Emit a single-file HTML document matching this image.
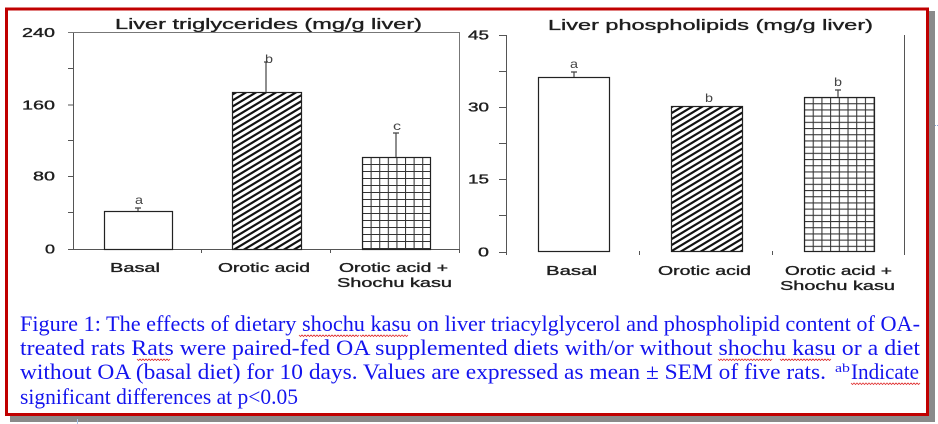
<!DOCTYPE html>
<html><head><meta charset="utf-8"><style>
html,body{margin:0;padding:0;background:#fff;}
svg{display:block;}
</style></head><body>
<svg width="938" height="424" viewBox="0 0 938 424" xmlns="http://www.w3.org/2000/svg">
<defs>
  <pattern id="diag" patternUnits="userSpaceOnUse" width="10" height="6">
    <path d="M-5,3 L5,-3 M0,6 L10,0 M5,9 L15,3" stroke="#111" stroke-width="2.2" fill="none"/>
  </pattern>
  <pattern id="gridL" patternUnits="userSpaceOnUse" x="362" y="157" width="8.6" height="7">
    <path d="M0.5,0 V7 M0,0.5 H8.6" stroke="#333" stroke-width="1.1" fill="none"/>
  </pattern>
  <pattern id="gridR" patternUnits="userSpaceOnUse" x="804" y="97" width="8.7" height="6.2">
    <path d="M0.5,0 V6.2 M0,0.5 H8.7" stroke="#333" stroke-width="1.1" fill="none"/>
  </pattern>
</defs>
<rect width="938" height="424" fill="#fff"/>

<!-- shadow -->
<rect x="929" y="11" width="6" height="411" fill="#8a8a8a"/>
<rect x="10" y="416" width="925" height="6" fill="#8a8a8a"/>
<!-- frame -->
<rect x="6.5" y="9" width="921" height="405.5" fill="#fff" stroke="#c00000" stroke-width="3"/>

<g font-family="Liberation Sans, Arial, sans-serif" fill="#1e1e1e" stroke="#1e1e1e" stroke-width="0.35">
  <!-- LEFT CHART -->
  <text x="115" y="29" font-size="15" textLength="307" lengthAdjust="spacingAndGlyphs">Liver triglycerides  (mg/g  liver)</text>
  <!-- axes -->
  <g stroke="#555" stroke-width="1" fill="none">
    <path d="M73.5,32 V249.5 H460"/>
    <path d="M68,32.5 H459.5 V249" stroke="#777"/>
    <path d="M68,68.5 H73 M68,105 H73 M68,140.5 H73 M68,176.5 H73 M68,212.5 H73 M68,249.5 H73"/>
    <path d="M201.5,249 V253 M330.5,249 V253 M459.5,249 V253"/>
  </g>
  <text x="22" y="37" font-size="13" textLength="33" lengthAdjust="spacingAndGlyphs">240</text>
  <text x="22" y="109.5" font-size="13" textLength="33" lengthAdjust="spacingAndGlyphs">160</text>
  <text x="33" y="180.5" font-size="13" textLength="22" lengthAdjust="spacingAndGlyphs">80</text>
  <text x="45" y="253.5" font-size="13" textLength="10" lengthAdjust="spacingAndGlyphs">0</text>
  <!-- bars -->
  <g stroke="#222" stroke-width="1.2">
  <rect x="104.5" y="211.5" width="68" height="38" fill="#fff"/>
  <rect x="232.5" y="92.5" width="69" height="157" fill="url(#diag)"/>
  <rect x="362.5" y="157.5" width="68" height="92" fill="url(#gridL)"/>
  </g>
  <!-- error bars -->
  <g stroke="#444" stroke-width="1.2" fill="none">
    <path d="M138,211 V208 M135,208 H141"/>
    <path d="M266,92 V62 M264,62 H268"/>
    <path d="M396,157 V133 M393,133 H399"/>
  </g>
  <g fill="#444" stroke="none">
  <text x="135" y="204" font-size="12" textLength="8" lengthAdjust="spacingAndGlyphs">a</text>
  <text x="265" y="63" font-size="12" textLength="8" lengthAdjust="spacingAndGlyphs">b</text>
  <text x="393" y="130" font-size="12" textLength="8" lengthAdjust="spacingAndGlyphs">c</text>
  </g>
  <!-- x labels -->
  <text x="110" y="272" font-size="13" textLength="50" lengthAdjust="spacingAndGlyphs">Basal</text>
  <text x="218" y="272" font-size="13" textLength="92" lengthAdjust="spacingAndGlyphs">Orotic acid</text>
  <text x="339" y="272" font-size="13" textLength="109" lengthAdjust="spacingAndGlyphs">Orotic acid +</text>
  <text x="337" y="287" font-size="13" textLength="115" lengthAdjust="spacingAndGlyphs">Shochu kasu</text>

  <!-- RIGHT CHART -->
  <text x="548" y="30" font-size="15" textLength="325" lengthAdjust="spacingAndGlyphs">Liver phospholipids  (mg/g  liver)</text>
  <g stroke="#555" stroke-width="1" fill="none">
    <path d="M506.5,35 V255"/>
    <path d="M904.5,35 V255"/>
    <path d="M499,35.5 H506 M499,71.5 H506 M499,107.5 H506 M499,143.5 H506 M499,179.5 H506 M499,215.5 H506 M499,252.5 H506"/>
    <path d="M639.5,251 V255 M772.5,251 V255"/>
  </g>
  <text x="468" y="39.5" font-size="13" textLength="21" lengthAdjust="spacingAndGlyphs">45</text>
  <text x="468" y="111.5" font-size="13" textLength="21" lengthAdjust="spacingAndGlyphs">30</text>
  <text x="468" y="183.5" font-size="13" textLength="21" lengthAdjust="spacingAndGlyphs">15</text>
  <text x="478" y="256.5" font-size="13" textLength="11" lengthAdjust="spacingAndGlyphs">0</text>
  <g stroke="#222" stroke-width="1.2">
  <rect x="538.5" y="77.5" width="71" height="174" fill="#fff"/>
  <rect x="671.5" y="106.5" width="71" height="145" fill="url(#diag)"/>
  <rect x="804.5" y="97.5" width="70" height="154" fill="url(#gridR)"/>
  </g>
  <g stroke="#444" stroke-width="1.2" fill="none">
    <path d="M574,77 V72 M571,72 H577"/>
    <path d="M838,97 V90 M835,90 H841"/>
  </g>
  <g fill="#444" stroke="none">
  <text x="570" y="68" font-size="12" textLength="8" lengthAdjust="spacingAndGlyphs">a</text>
  <text x="705" y="102" font-size="12" textLength="8" lengthAdjust="spacingAndGlyphs">b</text>
  <text x="834" y="86" font-size="12" textLength="8" lengthAdjust="spacingAndGlyphs">b</text>
  </g>
  <text x="546" y="275" font-size="13" textLength="51" lengthAdjust="spacingAndGlyphs">Basal</text>
  <text x="658" y="275" font-size="13" textLength="93" lengthAdjust="spacingAndGlyphs">Orotic acid</text>
  <text x="785" y="275" font-size="13" textLength="107" lengthAdjust="spacingAndGlyphs">Orotic acid +</text>
  <text x="780" y="290" font-size="13" textLength="115" lengthAdjust="spacingAndGlyphs">Shochu kasu</text>
</g>

<!-- caption -->
<g font-family="Liberation Serif, 'Times New Roman', serif" font-size="22.5" fill="#1414ee">
  <text x="20" y="331" textLength="900" lengthAdjust="spacingAndGlyphs">Figure 1: The effects of dietary shochu kasu on liver triacylglycerol and phospholipid content of OA-</text>
  <text x="20" y="355" textLength="900" lengthAdjust="spacingAndGlyphs">treated  rats  Rats  were  paired-fed  OA  supplemented  diets  with/or  without  shochu  kasu  or  a  diet</text>
  <text x="20" y="379" textLength="806" lengthAdjust="spacingAndGlyphs">without OA (basal diet) for 10 days. Values are expressed as mean ± SEM of five rats.</text>
  <text x="835" y="372" font-size="13" textLength="15" lengthAdjust="spacingAndGlyphs">ab</text>
  <text x="851" y="379" textLength="68" lengthAdjust="spacingAndGlyphs">Indicate</text>
  <text x="20" y="404" textLength="278" lengthAdjust="spacingAndGlyphs">significant differences at p&lt;0.05</text>
</g>
<!-- spelling squiggles -->
<g stroke="#e03030" stroke-width="0.8" fill="none">
  <path d="M299,335 l1.5,1.5 l1.5,-1.5 l1.5,1.5 l1.5,-1.5 l1.5,1.5 l1.5,-1.5 l1.5,1.5 l1.5,-1.5 l1.5,1.5 l1.5,-1.5 l1.5,1.5 l1.5,-1.5 l1.5,1.5 l1.5,-1.5 l1.5,1.5 l1.5,-1.5 l1.5,1.5 l1.5,-1.5 l1.5,1.5 l1.5,-1.5 l1.5,1.5 l1.5,-1.5 l1.5,1.5 l1.5,-1.5 l1.5,1.5 l1.5,-1.5 l1.5,1.5 l1.5,-1.5 l1.5,1.5 l1.5,-1.5 l1.5,1.5 l1.5,-1.5 l1.5,1.5 l1.5,-1.5 l1.5,1.5 l1.5,-1.5 l1.5,1.5 l1.5,-1.5 l1.5,1.5 l1.5,-1.5"/>
  <path d="M360,335 l1.5,1.5 l1.5,-1.5 l1.5,1.5 l1.5,-1.5 l1.5,1.5 l1.5,-1.5 l1.5,1.5 l1.5,-1.5 l1.5,1.5 l1.5,-1.5 l1.5,1.5 l1.5,-1.5 l1.5,1.5 l1.5,-1.5 l1.5,1.5 l1.5,-1.5 l1.5,1.5 l1.5,-1.5 l1.5,1.5 l1.5,-1.5 l1.5,1.5 l1.5,-1.5 l1.5,1.5 l1.5,-1.5 l1.5,1.5 l1.5,-1.5 l1.5,1.5 l1.5,-1.5 l1.5,1.5 l1.5,-1.5 l1.5,1.5 l1.5,-1.5"/>
  <path d="M137,359 l1.5,1.5 l1.5,-1.5 l1.5,1.5 l1.5,-1.5 l1.5,1.5 l1.5,-1.5 l1.5,1.5 l1.5,-1.5 l1.5,1.5 l1.5,-1.5 l1.5,1.5 l1.5,-1.5 l1.5,1.5 l1.5,-1.5 l1.5,1.5 l1.5,-1.5 l1.5,1.5 l1.5,-1.5 l1.5,1.5 l1.5,-1.5 l1.5,1.5 l1.5,-1.5"/>
  <path d="M718,359 l1.5,1.5 l1.5,-1.5 l1.5,1.5 l1.5,-1.5 l1.5,1.5 l1.5,-1.5 l1.5,1.5 l1.5,-1.5 l1.5,1.5 l1.5,-1.5 l1.5,1.5 l1.5,-1.5 l1.5,1.5 l1.5,-1.5 l1.5,1.5 l1.5,-1.5 l1.5,1.5 l1.5,-1.5 l1.5,1.5 l1.5,-1.5 l1.5,1.5 l1.5,-1.5 l1.5,1.5 l1.5,-1.5 l1.5,1.5 l1.5,-1.5 l1.5,1.5 l1.5,-1.5 l1.5,1.5 l1.5,-1.5 l1.5,1.5 l1.5,-1.5 l1.5,1.5 l1.5,-1.5 l1.5,1.5 l1.5,-1.5"/>
  <path d="M780,359 l1.5,1.5 l1.5,-1.5 l1.5,1.5 l1.5,-1.5 l1.5,1.5 l1.5,-1.5 l1.5,1.5 l1.5,-1.5 l1.5,1.5 l1.5,-1.5 l1.5,1.5 l1.5,-1.5 l1.5,1.5 l1.5,-1.5 l1.5,1.5 l1.5,-1.5 l1.5,1.5 l1.5,-1.5 l1.5,1.5 l1.5,-1.5 l1.5,1.5 l1.5,-1.5 l1.5,1.5 l1.5,-1.5 l1.5,1.5 l1.5,-1.5 l1.5,1.5 l1.5,-1.5 l1.5,1.5 l1.5,-1.5 l1.5,1.5 l1.5,-1.5 l1.5,1.5 l1.5,-1.5"/>
  <path d="M851,383 l1.5,1.5 l1.5,-1.5 l1.5,1.5 l1.5,-1.5 l1.5,1.5 l1.5,-1.5 l1.5,1.5 l1.5,-1.5 l1.5,1.5 l1.5,-1.5 l1.5,1.5 l1.5,-1.5 l1.5,1.5 l1.5,-1.5 l1.5,1.5 l1.5,-1.5 l1.5,1.5 l1.5,-1.5 l1.5,1.5 l1.5,-1.5 l1.5,1.5 l1.5,-1.5 l1.5,1.5 l1.5,-1.5 l1.5,1.5 l1.5,-1.5 l1.5,1.5 l1.5,-1.5 l1.5,1.5 l1.5,-1.5 l1.5,1.5 l1.5,-1.5 l1.5,1.5 l1.5,-1.5 l1.5,1.5 l1.5,-1.5 l1.5,1.5 l1.5,-1.5 l1.5,1.5 l1.5,-1.5 l1.5,1.5 l1.5,-1.5 l1.5,1.5 l1.5,-1.5 l1.5,1.5 l1.5,-1.5"/>
</g>
<!-- stray marks outside frame -->
<path d="M935,125.5 H938" stroke="#8aa8d8" stroke-width="1" stroke-dasharray="1,1"/>
<path d="M77.5,419 V424" stroke="#a8c4e8" stroke-width="1"/>
</svg>
</body></html>
